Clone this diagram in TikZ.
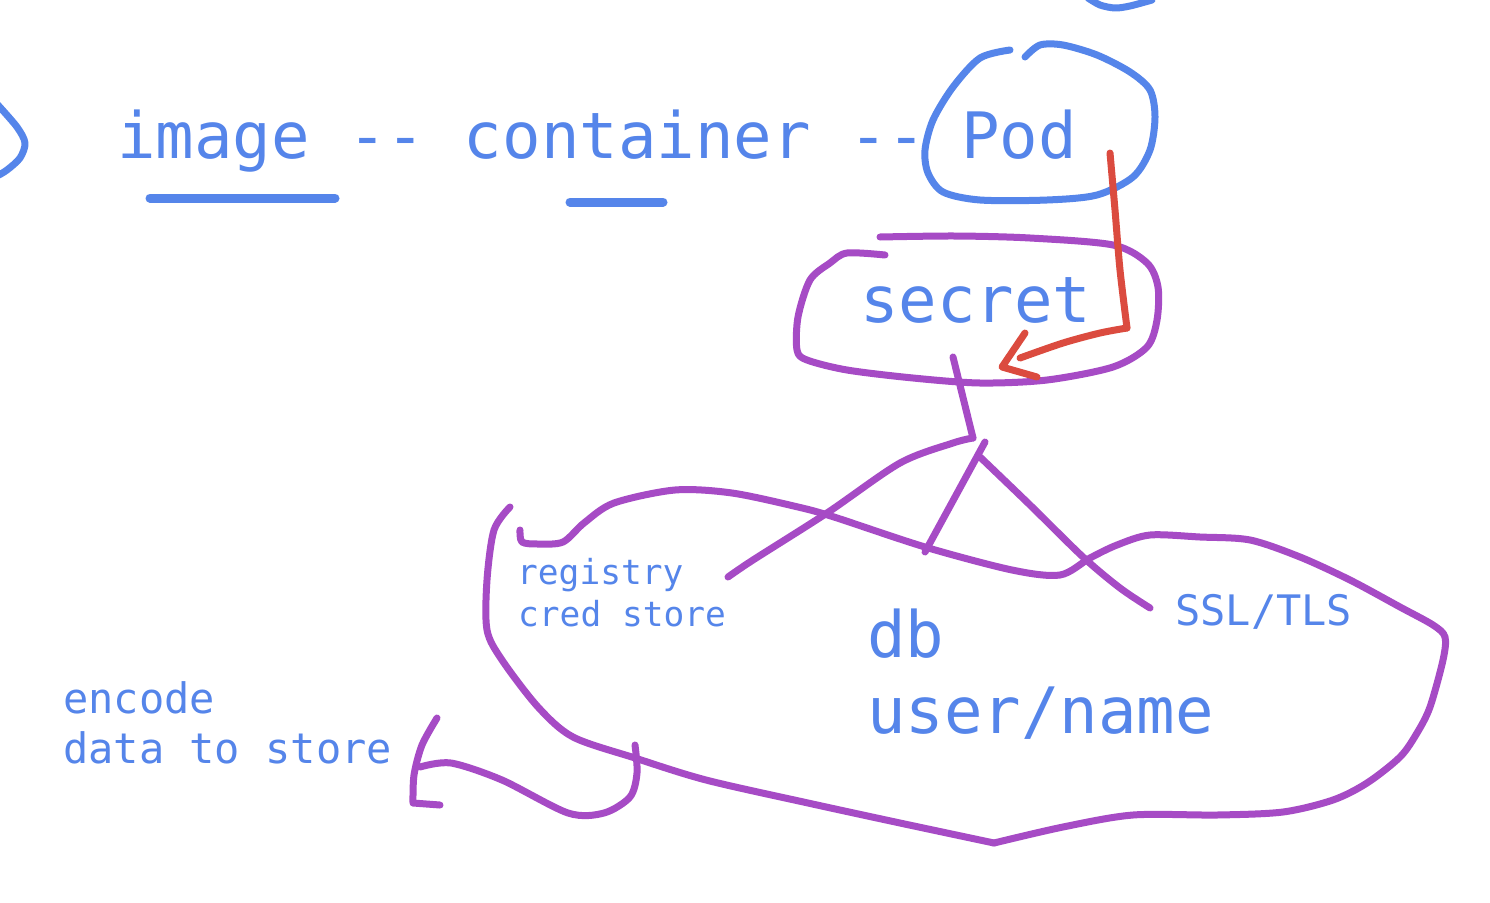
\documentclass[tikz,border=0pt]{standalone}
\usepackage{fontspec}
\setmonofont{DejaVu Sans Mono}
\definecolor{inkblue}{HTML}{5585EA}
\definecolor{inkpurple}{HTML}{A64BC5}
\definecolor{inkred}{HTML}{DB4B3F}
\tikzset{
  pen/.style={line width=7pt, line cap=round, line join=round},
  bluepen/.style={pen, draw=inkblue},
  purplepen/.style={pen, draw=inkpurple},
  redpen/.style={pen, draw=inkred},
  bigtxt/.style={anchor=base west, inner sep=0pt, text=inkblue, font=\ttfamily\fontsize{64}{64}\selectfont},
  midtxt/.style={anchor=base west, inner sep=0pt, text=inkblue, font=\ttfamily\fontsize{42}{42}\selectfont},
  smalltxt/.style={anchor=base west, inner sep=0pt, text=inkblue, font=\ttfamily\fontsize{34.5}{34.5}\selectfont},
}
\begin{document}
\begin{tikzpicture}[x=1pt,y=-1pt]
\useasboundingbox (0,0) rectangle (1490,902);
\fill[white] (0,0) rectangle (1490,902);

% texts
\node[bigtxt] (chain) at (117,158) {image -- container --};
\node[bigtxt] (pod) at (961,158) {Pod};
\node[bigtxt] (secret) at (860,322) {secret};
\node[bigtxt] (db) at (867,657) {db};
\node[bigtxt] (user) at (867,733) {user/name};
\node[smalltxt] (reg) at (517,584) {registry};
\node[smalltxt] (cred) at (518,626) {cred store};
\node[midtxt] (ssl) at (1175,625) {SSL/TLS};
\node[midtxt] (enc) at (63,713) {encode};
\node[midtxt] (data) at (63,763) {data to store};

% underlines
\draw[bluepen, line width=9pt] (150,198) -- (335,198);
\draw[bluepen, line width=9pt] (570,202) -- (663,202);

% edge fragments
\draw[bluepen] plot[smooth] coordinates {(-3,104) (17,127) (25,143) (20,158) (7,170) (-3,176)};
\draw[bluepen] plot[smooth] coordinates {(1088,-2) (1100,5) (1115,8) (1130,6) (1152,0)};

% Pod blob
\draw[bluepen] plot[smooth] coordinates {(1010,50) (980,58) (953,87) (933,120) (925,150) (928,173) (943,192) (980,200) (1047,200) (1097,195) (1133,177) (1150,150) (1155,117) (1150,90) (1130,72) (1097,55) (1063,45) (1040,45) (1025,57)};

% secret blob
\draw[purplepen] plot[smooth] coordinates {(880,237) (955,236) (1030,238) (1113,245) (1147,263) (1158,287) (1157,320) (1147,347) (1113,367) (1047,380) (980,383) (913,378) (847,370) (807,360) (797,350) (798,317) (810,280) (830,263) (847,253) (885,255)};

% red arrow Pod -> secret
\draw[redpen] plot[smooth] coordinates {(1110,153) (1115,210) (1120,270) (1127,328)};
\draw[redpen] plot[smooth] coordinates {(1127,328) (1100,333) (1063,343) (1020,358)};
\draw[redpen] (1025,333) -- (1002,367) -- (1037,377);

% branches from secret
\draw[purplepen] (953,357) -- (973,438);
\draw[purplepen] plot[smooth] coordinates {(973,438) (953,443) (900,463) (827,513) (753,560) (728,577)};
\draw[purplepen] (985,442) -- (925,552);
\draw[purplepen] plot[smooth] coordinates {(980,457) (1030,505) (1083,557) (1120,588) (1150,608)};

% db blob
\draw[purplepen] plot[smooth] coordinates {(510,507) (494,530) (487,580) (487,630) (502,660) (538,707) (573,737) (635,758) (706,780) (808,803) (900,823) (994,843)};
\draw[purplepen] plot[smooth] coordinates {(994,843) (1063,827) (1133,815) (1217,815) (1283,812) (1333,800) (1367,783) (1400,757) (1417,733) (1430,707) (1443,660) (1445,637) (1433,625) (1400,607) (1350,580) (1300,557) (1250,540) (1200,537) (1150,535) (1117,545) (1090,558) (1060,575) (1012,570) (925,547) (834,517) (798,507) (732,493) (675,490) (614,503) (584,523) (563,542) (538,544) (522,542) (520,530)};

% encode hook
\draw[purplepen] plot[smooth] coordinates {(437,718) (422,745) (414,775) (413,803)} -- (440,805);
\draw[purplepen] plot[smooth] coordinates {(635,745) (637,773) (630,797) (604,813) (568,813) (502,780) (451,763) (420,767)};
\end{tikzpicture}
\end{document}
